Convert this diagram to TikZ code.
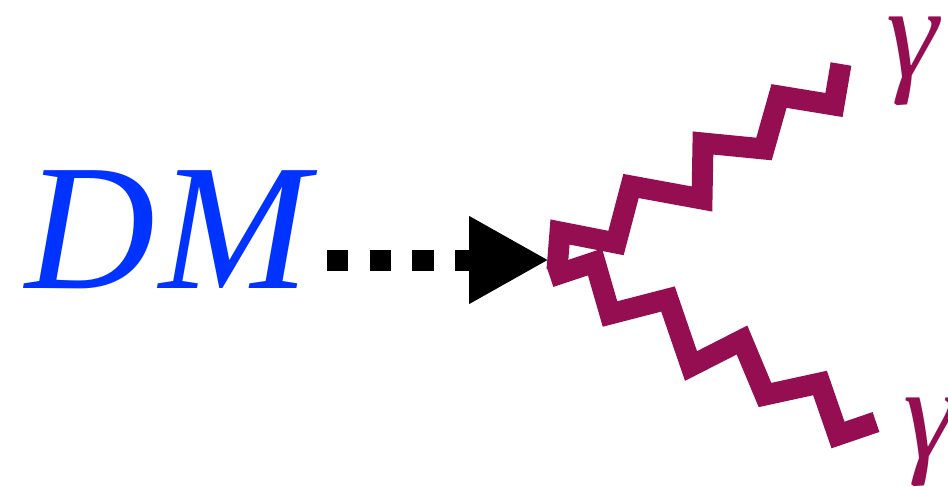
\documentclass[tikz,border=0pt]{standalone}
\usepackage{fontspec}
\setmainfont{Liberation Serif}
\usetikzlibrary{arrows.meta}
\definecolor{dmblue}{RGB}{0,51,255}
\definecolor{photon}{RGB}{150,14,82}

\begin{document}
\begin{tikzpicture}[x=0.5pt, y=-0.5pt,
  dmlabel/.style={text=dmblue, font=\fontsize{90}{90}\selectfont\itshape, inner sep=0pt},
  gammalabel/.style={text=photon, font=\fontsize{66}{66}\selectfont\itshape, inner sep=0pt},
  darkline/.style={line width=10.5pt, dash pattern=on 10.7pt off 10.6pt, -{Triangle[length=40pt,width=41pt]}},
  photonline/.style={draw=photon, line width=10.5pt, line join=miter}]
  \useasboundingbox (0,0) rectangle (948,487);

  % Dark matter and the vertex
  \node[dmlabel, anchor=base west] (dm) at (25,288) {D\kern2pt M};
  \coordinate (dmend) at (327,260);
  \coordinate (vtx) at (549,260);
  \draw[darkline] (dmend) -- (vtx);

  % Photons
  \coordinate (gamup) at (841,64);
  \coordinate (gamdn) at (876,422);
  \draw[photonline] (557,270) -- (560,232) -- (616,243) -- (631,186) -- (702,199)
    -- (703,143) -- (764,149) -- (779,96) -- (834,105) -- (gamup);
  \draw[photonline] (550,277) -- (595,262) -- (610,314) -- (668,299) -- (691,366)
    -- (742,340) -- (765,395) -- (820,383) -- (838,435) -- (gamdn);

  \node[gammalabel] (gup) at (912,61) {γ};
  \node[gammalabel] (gdn) at (929,442) {γ};
\end{tikzpicture}
\end{document}
